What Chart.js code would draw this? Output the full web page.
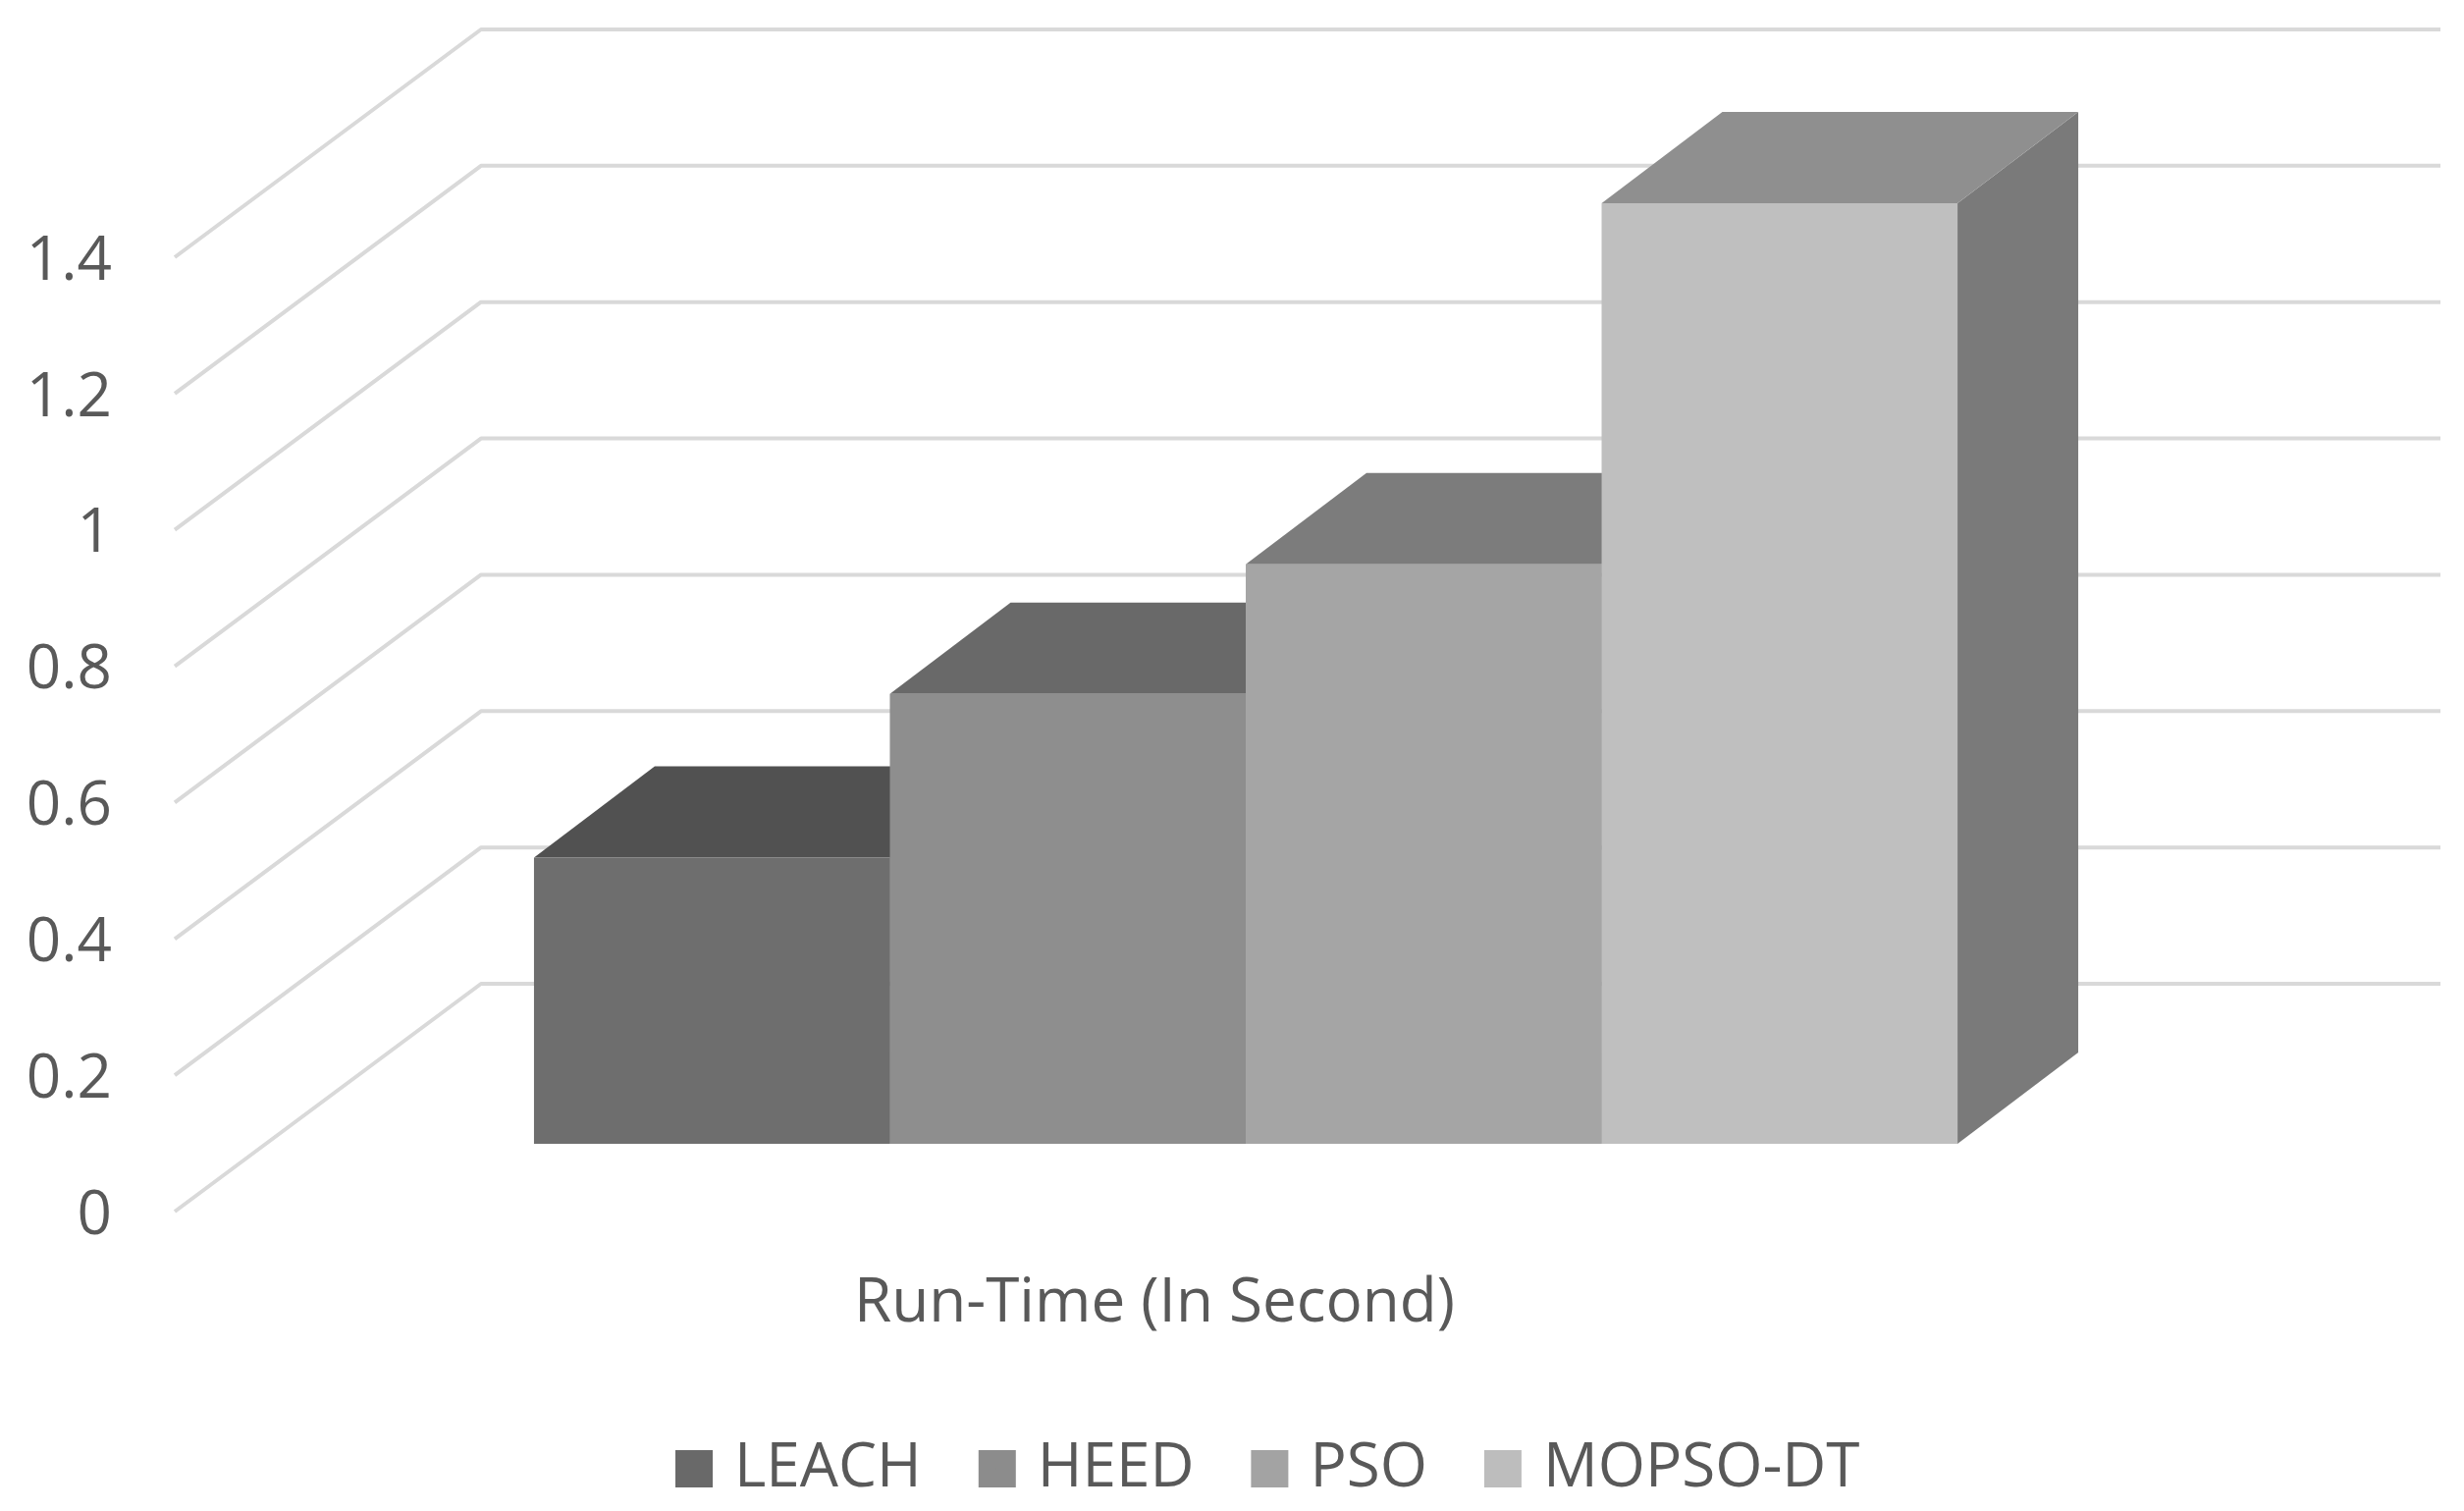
<!DOCTYPE html>
<html>
<head>
<meta charset="utf-8">
<title>Run-Time</title>
<script src="https://cdn.jsdelivr.net/npm/chart.js@4"></script>
<style>
html,body{margin:0;padding:0;background:#fff;}
#wrap{width:2510px;height:1539px;}
</style>
</head>
<body>
<div id="wrap"><canvas id="chart" width="2510" height="1539"></canvas></div>
<script>
const categories = ["Run-Time (In Second)"];
const seriesNames = ["LEACH", "HEED", "PSO", "MOPSO-DT"];
const leachValues = [0.42];
const heedValues = [0.66];
const psoValues = [0.85];
const mopsoValues = [1.38];
const tickLabels = ["0", "0.2", "0.4", "0.6", "0.8", "1", "1.2", "1.4"];

const frontColors = ["#6e6e6e", "#8e8e8e", "#a5a5a5", "#bfbfbf"];
const topColors = ["#515151", "#696969", "#7c7c7c", "#8f8f8f"];
const sideColors = ["#444444", "#585858", "#686868", "#7a7a7a"];
const legendColors = ["#696969", "#8c8c8c", "#a3a3a3", "#bdbdbd"];
const textColor = "#595959";
const gridColor = "#d9d9d9";
const fontName = "'Open Sans', sans-serif";

// depth of the wall behind the front plane, and of the bars
const wallDx = 312, wallDy = -232;
const barOffsetX = 93, barOffsetY = -69;
const barDepthX = 123, barDepthY = -93;

function polygon(ctx, pts, color){
  ctx.fillStyle = color;
  ctx.beginPath();
  pts.forEach((p,i)=> i ? ctx.lineTo(p[0],p[1]) : ctx.moveTo(p[0],p[1]));
  ctx.closePath();
  ctx.fill();
}

const depthPlugin = {
  id: "depth",
  afterLayout(chart){
    // legend sits off-centre in the original
    const lg = chart.legend;
    lg.left = 630;
    lg.right = 2510;
    lg.top = 1398;
    lg.bottom = 1539;
  },
  beforeDatasetsDraw(chart){
    const {ctx, chartArea, scales} = chart;
    ctx.save();
    // wall and floor lines
    ctx.strokeStyle = gridColor;
    ctx.lineWidth = 4;
    ctx.lineJoin = "round";
    scales.y.ticks.forEach(t=>{
      const y = scales.y.getPixelForValue(t.value);
      ctx.beginPath();
      ctx.moveTo(chartArea.left, y);
      ctx.lineTo(chartArea.left + wallDx, y + wallDy);
      ctx.lineTo(chartArea.right + wallDx, y + wallDy);
      ctx.stroke();
    });
    // top and side faces first, the fronts go over them
    seriesNames.forEach((name,i)=>{
      const bar = chart.getDatasetMeta(i).data[0];
      const l = bar.x - bar.width/2 + barOffsetX;
      const r = bar.x + bar.width/2 + barOffsetX;
      const t = bar.y + barOffsetY;
      const b = bar.base + barOffsetY;
      polygon(ctx, [[r,t],[r+barDepthX,t+barDepthY],[r+barDepthX,b+barDepthY],[r,b]], sideColors[i]);
      polygon(ctx, [[l,t],[l+barDepthX,t+barDepthY],[r+barDepthX,t+barDepthY],[r,t]], topColors[i]);
    });
    ctx.restore();
    ctx.save();
    ctx.translate(barOffsetX, barOffsetY);
  },
  afterDatasetsDraw(chart){
    chart.ctx.restore();
  }
};

const seriesValues = [leachValues, heedValues, psoValues, mopsoValues];

new Chart(document.getElementById("chart"), {
  type: "bar",
  plugins: [depthPlugin],
  data: {
    labels: categories,
    datasets: seriesNames.map((name,i)=>({
      label: name,
      data: seriesValues[i],
      backgroundColor: frontColors[i],
      borderWidth: 0,
      barPercentage: 1,
      categoryPercentage: 0.7265
    }))
  },
  options: {
    responsive: false,
    animation: false,
    layout: {padding: {top: 262, right: 336, bottom: 0, left: 0}},
    scales: {
      x: {
        afterFit(scale){ scale.height = 166; },
        grid: {display: false},
        border: {display: false},
        ticks: {color: textColor, padding: 49, font: {family: fontName, size: 62}}
      },
      y: {
        min: 0,
        max: 1.4,
        afterFit(scale){ scale.width = 178; },
        grid: {display: false},
        border: {display: false},
        ticks: {
          stepSize: 0.2,
          color: textColor,
          padding: 56,
          labelOffset: 5,
          font: {family: fontName, size: 62},
          callback: (v,i)=>tickLabels[i]
        }
      }
    },
    plugins: {
      tooltip: {enabled: false},
      legend: {
        position: "bottom",
        align: "start",
        labels: {
          color: textColor,
          font: {family: fontName, size: 62},
          boxWidth: 20,
          boxHeight: 20,
          padding: 67,
          generateLabels(chart){
            return Chart.defaults.plugins.legend.labels.generateLabels(chart).map((item,i)=>{
              item.fillStyle = legendColors[i];
              item.strokeStyle = legendColors[i];
              item.lineWidth = 18;
              return item;
            });
          }
        }
      }
    }
  }
});
</script>
</body>
</html>
